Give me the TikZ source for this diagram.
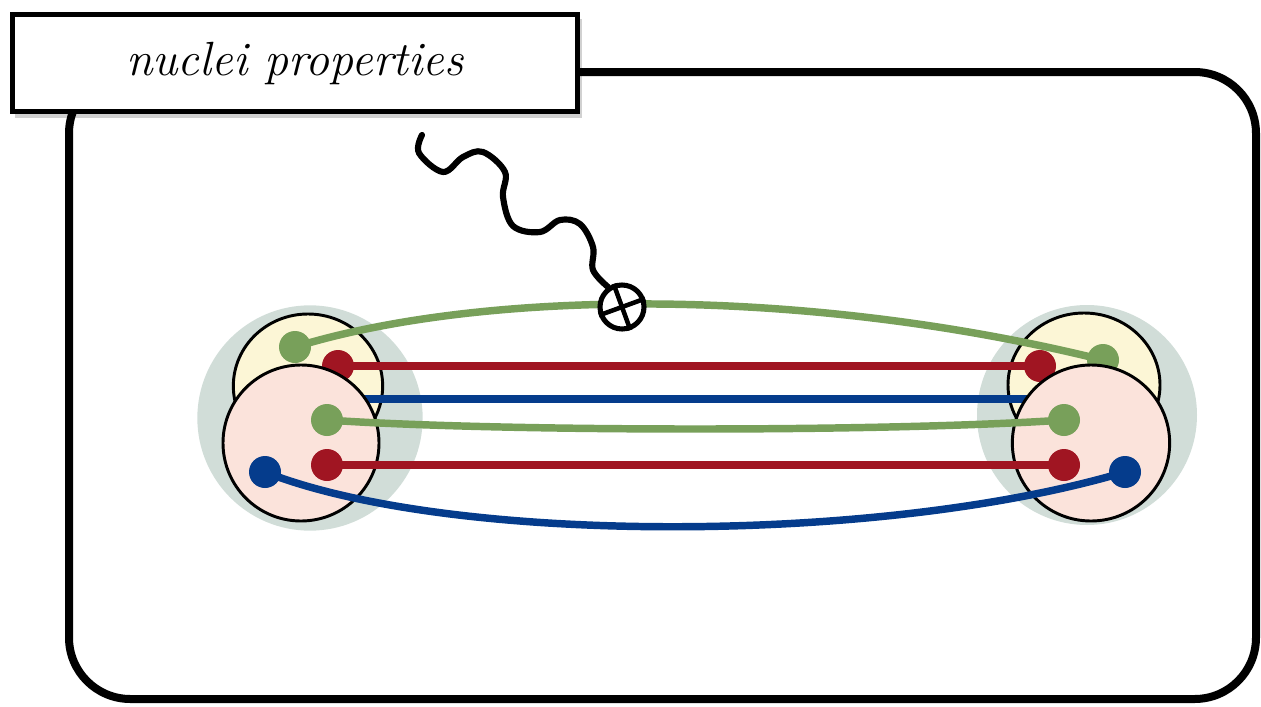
\documentclass[tikz,border=0pt]{standalone}
\usepackage{amsmath,amssymb}
\usepackage{xcolor}
\usepackage{tikz}
\usetikzlibrary{shapes.geometric, arrows.meta, positioning}

\definecolor{qgreen}{HTML}{78A05A}
\definecolor{qred}{HTML}{A01522}
\definecolor{qblue}{HTML}{053C8C}
\definecolor{cloud}{HTML}{D1DDD8}
\definecolor{protonfill}{HTML}{FCF6D6}
\definecolor{neutronfill}{HTML}{FBE3DB}

\tikzset{
    frame/.style={
        draw=black,
        line width=6pt,
        rounded corners=46pt
    },
    titlebox/.style={
        rectangle,
        draw=black,
        line width=3.5pt,
        fill=white,
        minimum width=424pt,
        minimum height=73pt,
        font=\fontsize{36}{42}\selectfont\itshape
    },
    boxshadow/.style={
        fill=black,
        opacity=0.18
    },
    nucleus/.style={
        circle,
        fill=cloud,
        inner sep=0pt
    },
    nucleon/.style={
        ellipse,
        draw=black,
        line width=2.2pt,
        inner sep=0pt
    },
    quark/.style={
        circle,
        inner sep=0pt,
        minimum size=24pt
    },
    qline/.style={
        line width=5.6pt
    },
    gluon/.style={
        draw=black,
        line width=4.6pt,
        line cap=round,
        line join=round
    },
    vertexnode/.style={
        circle,
        draw=black,
        line width=3.8pt,
        fill=white,
        inner sep=0pt,
        minimum size=33pt
    }
}

\begin{document}
\begin{tikzpicture}[x=0.75pt, y=-0.75pt]
\useasboundingbox (0,0) rectangle (1261,707);

% Outer frame
\draw[frame] (69,72) rectangle (1256,699);

% Clouds of the two nuclei
\node[nucleus, minimum size=169pt] (cloudL) at (310,418) {};
\node[nucleus, minimum size=165pt] (cloudR) at (1087,415) {};

% Upper nucleons
\node[nucleon, fill=protonfill, minimum width=112pt, minimum height=108pt] (pL) at (308,386) {};
\node[nucleon, fill=protonfill, minimum width=114pt, minimum height=108pt] (pR) at (1084,385) {};

% Quarks of the upper nucleons
\node[quark, fill=qgreen] (gL1) at (295,347) {};
\node[quark, fill=qred] (rL1) at (338,366) {};
\node[quark, fill=qblue] (bL1) at (320,399) {};
\node[quark, fill=qgreen] (gR1) at (1103,360) {};
\node[quark, fill=qred] (rR1) at (1040,366) {};
\node[quark, fill=qblue] (bR1) at (1070,399) {};

\draw[qline, qgreen] (gL1.center) .. controls (480,290) and (800,285) .. (gR1.center);
\draw[qline, qred] (rL1.center) -- (rR1.center);
\draw[qline, qblue] (bL1.center) -- (bR1.center);

% Lower nucleons
\node[nucleon, fill=neutronfill, minimum width=117pt, minimum height=117pt] (nL) at (301,443) {};
\node[nucleon, fill=neutronfill, minimum width=118pt, minimum height=117pt] (nR) at (1091,443) {};

% Quarks of the lower nucleons
\node[quark, fill=qgreen] (gL2) at (327,420) {};
\node[quark, fill=qred] (rL2) at (327,465) {};
\node[quark, fill=qblue] (bL2) at (265,472) {};
\node[quark, fill=qgreen] (gR2) at (1064,420) {};
\node[quark, fill=qred] (rR2) at (1064,465) {};
\node[quark, fill=qblue] (bR2) at (1125,472) {};

\draw[qline, qgreen] (gL2.center) .. controls (500,432) and (890,432) .. (gR2.center);
\draw[qline, qred] (rL2.center) -- (rR2.center);
\draw[qline, qblue] (bL2.center) .. controls (450,545) and (880,545) .. (bR2.center);

% Probe coupling to the string
\node[vertexnode] (vertex) at (622,307) {};
\draw[line width=3.4pt] (vertex.110) -- (vertex.290);
\draw[line width=3.4pt] (vertex.20) -- (vertex.200);

\coordinate (probe) at (422,135);
\draw[gluon] plot[smooth, tension=0.6] coordinates {(probe) (419,153) (443,172) (463,157) (483,152) (505,172) (503,197) (513,226) (540,232) (560,220) (580,224) (593,247) (593,270) (vertex.125)};

% Label
\fill[boxshadow] (15,19) rectangle (582,118);
\node[titlebox] (title) at (295,63) {nuclei properties};

\end{tikzpicture}
\end{document}
